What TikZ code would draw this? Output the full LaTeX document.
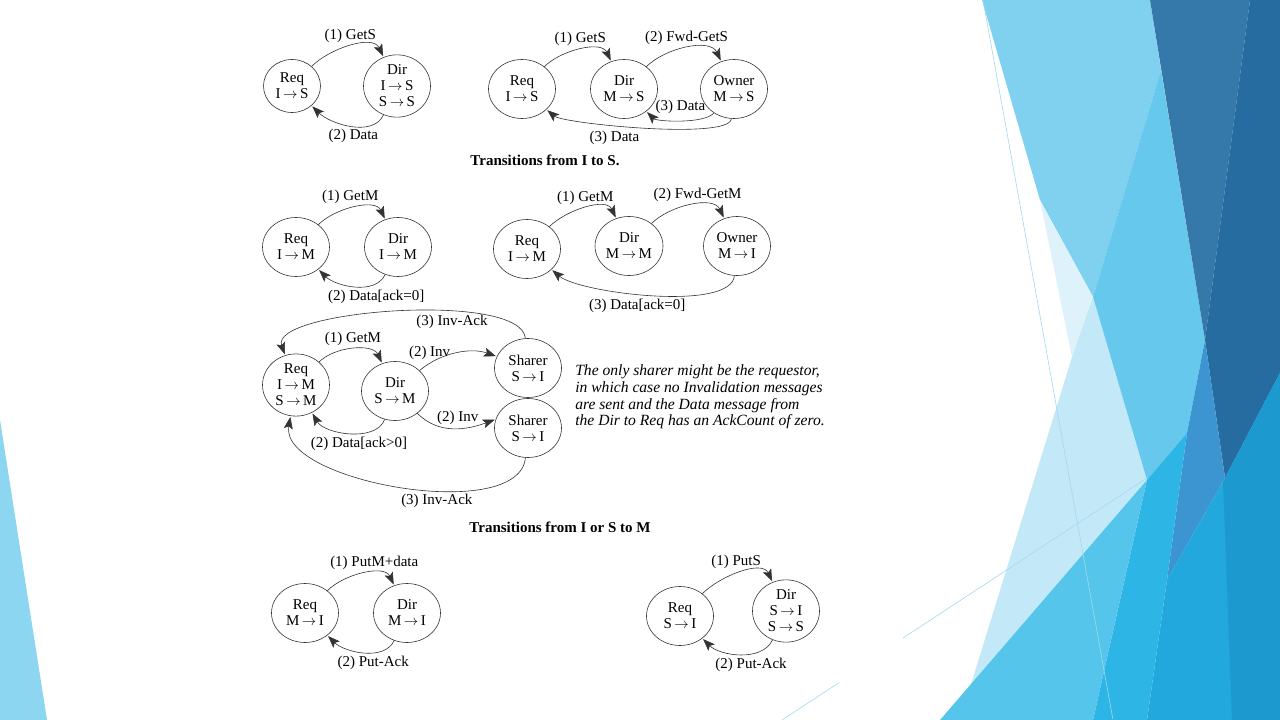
\documentclass[tikz,border=0pt]{standalone}
\usepackage{fontspec}
\setmainfont{Liberation Serif}
\usepackage{tikz}
\usetikzlibrary{arrows.meta,automata,positioning,shapes.geometric}

\definecolor{facetsky}{HTML}{80D0F0}
\definecolor{facetpale}{HTML}{DDF2FA}
\definecolor{facetice}{HTML}{C3E9F8}
\definecolor{facetmid}{HTML}{66C8EC}
\definecolor{facetsteel}{HTML}{3479A9}
\definecolor{facetnavy}{HTML}{266CA0}
\definecolor{facetcobalt}{HTML}{3C95D0}
\definecolor{facetaqua}{HTML}{55C5EB}
\definecolor{facetbright}{HTML}{2CB5E5}
\definecolor{facetteal}{HTML}{22A8DC}
\definecolor{facetdeep}{HTML}{1C99CF}
\definecolor{facetstrip}{HTML}{8DD6F2}
\definecolor{facetline}{HTML}{A3D9EF}

\newcommand{\goesto}{\,$\rightarrow$\,}

\begin{document}
\begin{tikzpicture}[->,>={Stealth[length=12pt,width=9pt,inset=2.5pt]},shorten >=1pt,auto,node distance=102pt,semithick,x=1pt,y=1pt,font=\fontsize{15}{16}\selectfont]
\tikzstyle{every state}=[ellipse,fill=none,draw=black!80,text=black,align=center,inner sep=1pt,minimum width=67pt,minimum height=59pt]
\tikzstyle{every edge}=[draw=black!80]
\tikzstyle{hop}=[out=45,in=115,looseness=0.9]
\tikzstyle{hopback}=[out=-115,in=-45,looseness=0.9]

% slide background
\begin{scope}[-]
\useasboundingbox (0,0) rectangle (1280,-720);
\fill[white] (0,0) rectangle (1280,-720);
\fill[facetstrip] (0,-420) -- (47,-720) -- (0,-720) -- cycle;
\fill[facetsky] (982,0) -- (1150,0) -- (1161,-70) -- (1093,-297) -- (1040,-200) -- cycle;
\fill[facetpale] (1040,-200) -- (1093,-297) -- (1072,-357) -- cycle;
\fill[facetice] (1072,-357) -- (1093,-297) -- (1147,-480) -- (960,-720) -- cycle;
\fill[facetmid] (1161,-70) -- (1205,-340) -- (1187,-433) -- (1147,-480) -- (1093,-297) -- cycle;
\fill[facetsteel] (1150,0) -- (1250,0) -- (1205,-340) -- cycle;
\fill[facetnavy] (1250,0) -- (1280,0) -- (1280,-373) -- (1225,-478) -- (1205,-340) -- cycle;
\fill[facetcobalt] (1205,-340) -- (1225,-478) -- (1167,-580) -- (1187,-433) -- cycle;
\fill[facetteal] (1280,-373) -- (1280,-720) -- (1147,-720) -- (1167,-580) -- (1225,-478) -- cycle;
\fill[facetdeep] (1280,-373) -- (1280,-720) -- (1232,-720) -- (1223,-482) -- cycle;
\fill[facetbright] (1187,-433) -- (1167,-580) -- (1147,-720) -- (1093,-720) -- (1147,-480) -- cycle;
\fill[facetaqua] (940,-720) -- (1147,-480) -- (1093,-720) -- cycle;
\draw[facetline,line width=0.6pt] (983,0) -- (1113,-720);
\draw[facetline,line width=0.6pt] (903,-638) -- (1147,-478);
\draw[facetline,line width=0.6pt] (782,-720) -- (840,-682);
\end{scope}

% I to S
\node[state,minimum width=57pt,minimum height=53pt] (req1) at (292,-86) {Req\\I\goesto S};
\node[state] (dir1) [right of=req1,xshift=3pt] {Dir\\I\goesto S\\S\goesto S};

\path (req1) edge [hop] node[above] {(1) GetS} (dir1)
(dir1) edge [hopback] node[below,xshift=3pt] {(2) Data} (req1);

\node[state] (req2) at (522,-89) {Req\\I\goesto S};
\node[state] (dir2) [right of=req2] {Dir\\M\goesto S};
\node[state] (own2) [right of=dir2,xshift=8pt] {Owner\\M\goesto S};

\path (req2) edge [hop] node[above] {(1) GetS} (dir2)
(dir2) edge [hop] node[above] {(2) Fwd-GetS} (own2)
(own2) edge [out=-130,in=-45,looseness=0.55] node[above=3pt] {(3) Data} (dir2)
	edge [out=-95,in=-40,looseness=0.3] node[below,xshift=-30pt] {(3) Data} (req2);

\node[font=\fontsize{15}{18}\selectfont\bfseries] (cap1) at (545,-160) {Transitions from I to S.};

% I to M
\node[state] (req3) at (296,-247) {Req\\I\goesto M};
\node[state] (dir3) [right of=req3] {Dir\\I\goesto M};

\path (req3) edge [hop] node[above,xshift=-4pt] {(1) GetM} (dir3)
(dir3) edge [hopback] node[below,xshift=22pt] {(2) Data[ack=0]} (req3);

\node[state] (req4) at (527,-249) {Req\\I\goesto M};
\node[state] (dir4) [right of=req4,yshift=3pt] {Dir\\M\goesto M};
\node[state] (own4) [right of=dir4,xshift=6pt] {Owner\\M\goesto I};

\path (req4) edge [hop] node[above] {(1) GetM} (dir4)
(dir4) edge [hop] node[above,xshift=7pt] {(2) Fwd-GetM} (own4)
(own4) edge [out=-95,in=-40,looseness=0.51] node[below,xshift=-15pt] {(3) Data[ack=0]} (req4);

% S to M with sharers
\node[state] (req5) at (296,-385) {Req\\I\goesto M\\S\goesto M};
\node[state] (dir5) [right of=req5,xshift=-3pt,yshift=-6pt] {Dir\\S\goesto M};
\node[state] (shr5a) at (528,-368) {Sharer\\S\goesto I};
\node[state] (shr5b) [node distance=60pt,below of=shr5a] {Sharer\\S\goesto I};

\path (req5) edge [hop] node[above] {(1) GetM} (dir5)
(dir5) edge [bend left=30,looseness=0.9] node[above,pos=0.15] {(2) Inv} (shr5a)
	edge [out=-45,in=200,looseness=1] node[above,pos=0.55] {(2) Inv} (shr5b.165)
	edge [out=-110,in=-60,looseness=0.87] node[below,pos=0.4] {(2) Data[ack>0]} (req5)
(shr5a) edge [out=95,in=110,looseness=0.51] node[below,pos=0.35] {(3) Inv-Ack} (req5)
(shr5b) edge [out=-95,in=-100,looseness=0.72] node[below,pos=0.4] {(3) Inv-Ack} (req5);

\node[anchor=west,align=left,inner sep=0pt,font=\fontsize{15.6}{16.7}\selectfont\itshape] (note) at (575,-397) {The only sharer might be the requestor,\\in which case no Invalidation messages\\are sent and the Data message from\\the Dir to Req has an AckCount of zero.};

\node[font=\fontsize{15}{18}\selectfont\bfseries] (cap2) at (560,-527) {Transitions from I or S to M};

% back to I
\node[state] (req6) at (305,-613) {Req\\M\goesto I};
\node[state] (dir6) [right of=req6] {Dir\\M\goesto I};

\path (req6) edge [hop] node[above,xshift=11pt] {(1) PutM+data} (dir6)
(dir6) edge [hopback] node[below,xshift=10pt] {(2) Put-Ack} (req6);

\node[state] (req7) at (680,-616) {Req\\S\goesto I};
\node[state] (dir7) [right of=req7,xshift=4pt,yshift=5pt] {Dir\\S\goesto I\\S\goesto S};

\path (req7) edge [hop] node[above,xshift=-4pt] {(1) PutS} (dir7)
(dir7) edge [hopback] node[below,xshift=11pt] {(2) Put-Ack} (req7);
\end{tikzpicture}
\end{document}
